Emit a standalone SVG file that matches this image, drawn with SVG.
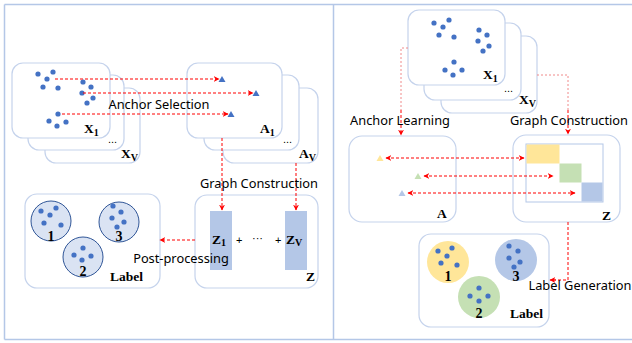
<svg xmlns="http://www.w3.org/2000/svg" width="632" height="343" viewBox="0 0 632 343">
  <defs>
    <marker id="arr" viewBox="0 0 10 10" refX="9" refY="5" markerWidth="6" markerHeight="6" orient="auto-start-reverse" markerUnits="userSpaceOnUse">
      <path d="M0,0 L10,5 L0,10 L3,5 Z" fill="#ff0000"/>
    </marker>
    <style>
      .frame { stroke: #b4c7e7; stroke-width: 1.5; fill: none; }
      .card { fill: #ffffff; stroke: #c5d3ec; stroke-width: 1.2; }
      .dot { fill: #4472c4; }
      .lbl { font-family: "Noto Sans", "Open Sans", sans-serif; font-size: 12.8px; fill: #000; }
      .math { font-family: "Liberation Serif", "DejaVu Serif", serif; font-weight: bold; font-size: 13.5px; fill: #000; }
      .sub { font-size: 10px; }
      .dots { font-family: "Liberation Sans", sans-serif; font-size: 11px; fill: #000; }
      .num { font-family: "Liberation Serif", serif; font-weight: bold; font-size: 14px; fill: #000; text-anchor: middle; }
      .conn { stroke: #ff0000; stroke-width: 1; stroke-dasharray: 3 2; fill: none; }
      .connl { stroke: #f08a8a; stroke-width: 1; stroke-dasharray: 2 2; fill: none; }
      .tri { fill: #4472c4; }
    </style>
  </defs>

  <!-- panel frames -->
  <g id="frame">
    <line class="frame" x1="4.5" y1="4.5" x2="632" y2="4.5"/>
    <line class="frame" x1="4.5" y1="339.5" x2="632" y2="339.5"/>
    <line class="frame" x1="4.5" y1="4.5" x2="4.5" y2="339.5"/>
    <line class="frame" x1="333.5" y1="4.5" x2="333.5" y2="339.5"/>
  </g>

  <!-- left: input views X -->
  <g id="left-x">
    <rect class="card" x="45" y="88" width="95" height="75" rx="11"/>
    <rect class="card" x="28" y="75" width="96" height="75" rx="11"/>
    <rect class="card" x="12" y="63" width="98" height="75" rx="11"/>
    <g class="dot">
      <circle cx="38" cy="74" r="2.6"/><circle cx="53" cy="72" r="2.6"/><circle cx="47" cy="79" r="2.6"/>
      <circle cx="43" cy="87" r="2.6"/><circle cx="58" cy="88" r="2.6"/>
      <circle cx="83" cy="82" r="2.6"/><circle cx="91" cy="87" r="2.6"/><circle cx="82" cy="93" r="2.6"/>
      <circle cx="93" cy="98" r="2.6"/><circle cx="87" cy="103" r="2.6"/>
      <circle cx="58" cy="114" r="2.6"/><circle cx="49" cy="121" r="2.6"/><circle cx="66" cy="122" r="2.6"/>
      <circle cx="57" cy="126" r="2.6"/>
    </g>
    <text class="math" x="84" y="133">X<tspan class="sub" dy="3">1</tspan></text>
    <text class="dots" x="108" y="143">...</text>
    <text class="math" x="121" y="158">X<tspan class="sub" dy="3">V</tspan></text>
  </g>

  <!-- left: anchors A -->
  <g id="left-a">
    <rect class="card" x="223" y="88" width="95" height="75" rx="11"/>
    <rect class="card" x="204" y="75" width="95" height="75" rx="11"/>
    <rect class="card" x="187" y="63" width="95" height="75" rx="11"/>
    <g class="tri">
      <path d="M222,76 L225.5,82 L218.5,82 Z"/>
      <path d="M256,90 L259.5,96 L252.5,96 Z"/>
      <path d="M231,111 L234.5,117 L227.5,117 Z"/>
    </g>
    <text class="math" x="260" y="133">A<tspan class="sub" dy="3">1</tspan></text>
    <text class="dots" x="283" y="143">...</text>
    <text class="math" x="299" y="158">A<tspan class="sub" dy="3">V</tspan></text>
  </g>

  <!-- left: graphs Z -->
  <g id="left-z">
    <rect class="card" x="195" y="195" width="123" height="93" rx="12"/>
    <rect x="210" y="211" width="22" height="59" fill="#b4c7e7"/>
    <rect x="285" y="211" width="22" height="59" fill="#b4c7e7"/>
    <text class="math" x="212" y="244">Z<tspan class="sub" dy="2">1</tspan></text>
    <text class="dots" x="236" y="244">+</text>
    <text class="dots" x="252" y="242">···</text>
    <text class="dots" x="275" y="244">+</text>
    <text class="math" x="286" y="244">Z<tspan class="sub" dy="2">V</tspan></text>
    <text class="math" x="306" y="281">Z</text>
  </g>

  <!-- left: clustering result -->
  <g id="left-label">
    <rect class="card" x="25" y="194" width="135" height="94" rx="12"/>
    <g fill="#dae3f3" stroke="#2f5597" stroke-width="1">
      <circle cx="51" cy="221" r="20"/>
      <circle cx="119" cy="222" r="20"/>
      <circle cx="83" cy="257" r="20"/>
    </g>
    <g class="dot">
      <circle cx="41" cy="211" r="2.6"/><circle cx="56" cy="208" r="2.6"/><circle cx="50" cy="215" r="2.6"/>
      <circle cx="44" cy="223" r="2.6"/><circle cx="61" cy="225" r="2.6"/>
      <circle cx="113" cy="206" r="2.6"/><circle cx="121" cy="212" r="2.6"/><circle cx="112" cy="218" r="2.6"/>
      <circle cx="124" cy="222" r="2.6"/><circle cx="117" cy="227" r="2.6"/>
      <circle cx="83" cy="248" r="2.6"/><circle cx="74" cy="255" r="2.6"/><circle cx="91" cy="256" r="2.6"/>
      <circle cx="82" cy="260" r="2.6"/>
    </g>
    <text class="num" x="51" y="241">1</text>
    <text class="num" x="119" y="241">3</text>
    <text class="num" x="83" y="276">2</text>
    <text class="math" x="110" y="281">Label</text>
  </g>

  <!-- right: input views X -->
  <g id="right-x">
    <rect class="card" x="441" y="36" width="96" height="77" rx="11"/>
    <rect class="card" x="424" y="23" width="97" height="77" rx="11"/>
    <rect class="card" x="408" y="10" width="97" height="75" rx="11"/>
    <g class="dot">
      <circle cx="434" cy="23" r="2.6"/><circle cx="449" cy="20" r="2.6"/><circle cx="443" cy="27" r="2.6"/>
      <circle cx="439" cy="35" r="2.6"/><circle cx="454" cy="37" r="2.6"/>
      <circle cx="479" cy="30" r="2.6"/><circle cx="487" cy="35" r="2.6"/><circle cx="478" cy="41" r="2.6"/>
      <circle cx="489" cy="46" r="2.6"/><circle cx="483" cy="51" r="2.6"/>
      <circle cx="454" cy="62" r="2.6"/><circle cx="445" cy="70" r="2.6"/><circle cx="462" cy="70" r="2.6"/>
      <circle cx="453" cy="75" r="2.6"/>
    </g>
    <text class="math" x="483" y="79">X<tspan class="sub" dy="3">1</tspan></text>
    <text class="dots" x="504" y="92">...</text>
    <text class="math" x="519" y="104">X<tspan class="sub" dy="3">V</tspan></text>
  </g>

  <!-- right: anchors A -->
  <g id="right-a">
    <rect class="card" x="349" y="136" width="107" height="86" rx="13"/>
    <path d="M380,155 L383.5,161 L376.5,161 Z" fill="#ffe699"/>
    <path d="M418,173 L421.5,179 L414.5,179 Z" fill="#c5e0b4"/>
    <path d="M402,190 L405.5,196 L398.5,196 Z" fill="#b4c7e7"/>
    <text class="math" x="437" y="218">A</text>
  </g>

  <!-- right: consensus graph Z -->
  <g id="right-z">
    <rect class="card" x="513" y="135" width="107" height="87" rx="13"/>
    <rect x="526" y="144" width="77" height="58" fill="#ffffff" stroke="#b4c7e7" stroke-width="1"/>
    <rect x="526.5" y="144.5" width="33" height="19" fill="#ffe699"/>
    <rect x="559.5" y="163.5" width="22" height="19" fill="#c5e0b4"/>
    <rect x="581.5" y="182.5" width="21" height="19" fill="#b4c7e7"/>
    <text class="math" x="602" y="220">Z</text>
  </g>

  <!-- right: clustering result -->
  <g id="right-label">
    <rect class="card" x="419" y="234" width="130" height="93" rx="12"/>
    <circle cx="448" cy="262" r="21" fill="#ffe699"/>
    <circle cx="516" cy="260" r="21" fill="#b4c7e7"/>
    <circle cx="479" cy="297" r="21" fill="#c5e0b4"/>
    <g class="dot">
      <circle cx="438" cy="251" r="2.6"/><circle cx="452" cy="248" r="2.6"/><circle cx="447" cy="256" r="2.6"/>
      <circle cx="441" cy="263" r="2.6"/><circle cx="457" cy="265" r="2.6"/>
      <circle cx="509" cy="246" r="2.6"/><circle cx="518" cy="251" r="2.6"/><circle cx="509" cy="258" r="2.6"/>
      <circle cx="520" cy="262" r="2.6"/><circle cx="514" cy="267" r="2.6"/>
      <circle cx="479" cy="288" r="2.6"/><circle cx="470" cy="296" r="2.6"/><circle cx="488" cy="296" r="2.6"/>
      <circle cx="479" cy="301" r="2.6"/>
    </g>
    <text class="num" x="448" y="281">1</text>
    <text class="num" x="516" y="281">3</text>
    <text class="num" x="479" y="318">2</text>
    <text class="math" x="510" y="318">Label</text>
  </g>

  <!-- connectors -->
  <g id="connectors">
    <line class="conn" x1="55" y1="79" x2="219" y2="79" marker-end="url(#arr)"/>
    <line class="conn" x1="83" y1="93" x2="253" y2="93" marker-end="url(#arr)"/>
    <line class="conn" x1="62" y1="114" x2="228" y2="114" marker-end="url(#arr)"/>
    <line class="conn" x1="222" y1="138" x2="222" y2="210" marker-end="url(#arr)"/>
    <line class="conn" x1="296" y1="163" x2="296" y2="210" marker-end="url(#arr)"/>
    <line class="conn" x1="195" y1="240" x2="160" y2="240" marker-end="url(#arr)"/>

    <polyline class="connl" points="408,48 401,48 401,110"/>
    <line class="conn" x1="401" y1="110" x2="401" y2="135" marker-end="url(#arr)"/>
    <polyline class="connl" points="537,75 568,75 568,110"/>
    <line class="conn" x1="568" y1="110" x2="568" y2="134" marker-end="url(#arr)"/>
    <line class="conn" x1="386" y1="158" x2="524" y2="158" marker-start="url(#arr)" marker-end="url(#arr)"/>
    <line class="conn" x1="424" y1="176" x2="553" y2="176" marker-start="url(#arr)" marker-end="url(#arr)"/>
    <line class="conn" x1="408" y1="193" x2="575" y2="193" marker-start="url(#arr)" marker-end="url(#arr)"/>
    <polyline class="conn" points="568,222 568,280 552,280"/>
    <line class="conn" x1="556" y1="280" x2="550" y2="280" marker-end="url(#arr)" stroke-dasharray="none"/>
  </g>

  <!-- step labels -->
  <g id="captions">
    <text class="lbl" x="159" y="109" text-anchor="middle">Anchor Selection</text>
    <text class="lbl" x="259" y="188" text-anchor="middle">Graph Construction</text>
    <text class="lbl" x="181" y="263" text-anchor="middle">Post-processing</text>
    <text class="lbl" x="400" y="125" text-anchor="middle">Anchor Learning</text>
    <text class="lbl" x="569" y="125" text-anchor="middle">Graph Construction</text>
    <text class="lbl" x="580" y="290" text-anchor="middle">Label Generation</text>
  </g>
</svg>
